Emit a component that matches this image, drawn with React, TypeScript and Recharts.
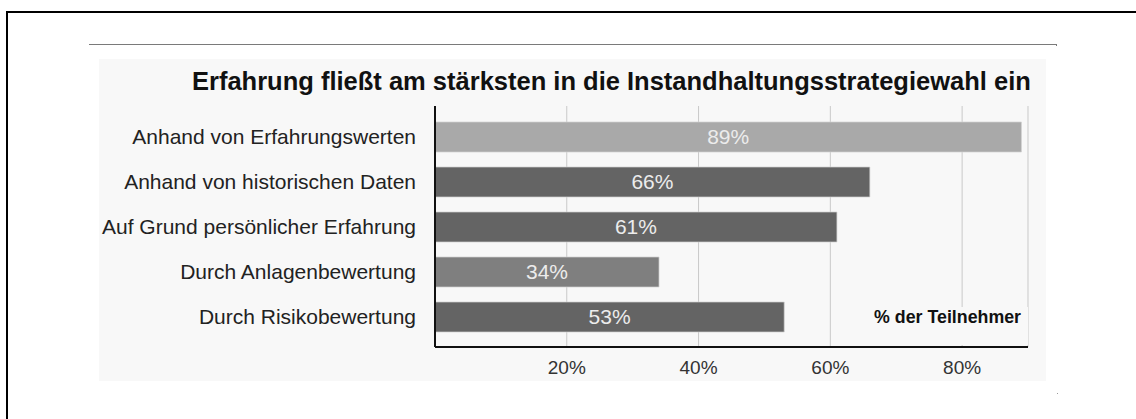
import React from "react";
import {
  BarChart,
  Bar,
  XAxis,
  YAxis,
  CartesianGrid,
  Cell,
  LabelList,
} from "recharts";

const categories = [
  "Anhand von Erfahrungswerten",
  "Anhand von historischen Daten",
  "Auf Grund persönlicher Erfahrung",
  "Durch Anlagenbewertung",
  "Durch Risikobewertung",
];

const shares = [89, 66, 61, 34, 53];

const xTicks = [20, 40, 60, 80];

const barColors = ["#a9a9a9", "#646464", "#646464", "#7f7f7f", "#646464"];

const data = categories.map((name, i) => ({ name, value: shares[i] }));

const FONT = '"Liberation Sans", Arial, sans-serif';
const PANEL = "#f8f8f8";

export default function App() {
  return (
    <div
      style={{
        position: "absolute",
        left: 0,
        top: 0,
        width: 1136,
        height: 419,
        background: "#ffffff",
        overflow: "hidden",
        fontFamily: FONT,
      }}
    >
      {/* outer frame (only top and left edges are in view) */}
      <div
        style={{
          position: "absolute",
          left: 6,
          top: 11,
          width: 1200,
          height: 500,
          borderLeft: "2px solid #000",
          borderTop: "2px solid #000",
        }}
      />

      {/* thin rule above the figure */}
      <div
        style={{
          position: "absolute",
          left: 89,
          top: 44,
          width: 968,
          height: 1,
          background: "#7a7a7a",
        }}
      />
      <div
        style={{
          position: "absolute",
          left: 1056,
          top: 44,
          width: 1,
          height: 2,
          background: "#7a7a7a",
        }}
      />
      <div
        style={{
          position: "absolute",
          left: 1057,
          top: 393,
          width: 1,
          height: 1,
          background: "#9a9a9a",
        }}
      />

      {/* chart panel */}
      <div
        style={{
          position: "absolute",
          left: 99,
          top: 59,
          width: 947,
          height: 322,
          background: PANEL,
        }}
      />

      <div
        style={{
          position: "absolute",
          left: 192,
          top: 68,
          fontSize: 25.5,
          lineHeight: "26px",
          fontWeight: "bold",
          color: "#111",
          whiteSpace: "nowrap",
        }}
      >
        Erfahrung fließt am stärksten in die Instandhaltungsstrategiewahl ein
      </div>

      <div style={{ position: "absolute", left: 0, top: 0 }}>
        <BarChart
          width={1136}
          height={419}
          data={data}
          layout="vertical"
          margin={{ top: 106, right: 108, bottom: 32, left: 80 }}
          barSize={30}
        >
          <CartesianGrid
            horizontal={false}
            vertical={true}
            stroke="#c9c9c9"
            strokeWidth={1}
          />
          <XAxis
            type="number"
            domain={[0, 90]}
            ticks={xTicks}
            tickFormatter={(v: number) => `${v}%`}
            axisLine={{ stroke: "#111", strokeWidth: 2 }}
            tickLine={false}
            tickSize={0}
            tickMargin={14}
            height={40}
            tick={{ fontSize: 19, fill: "#333", fontFamily: FONT }}
          />
          <YAxis
            type="category"
            dataKey="name"
            width={355}
            axisLine={{ stroke: "#111", strokeWidth: 2 }}
            tickLine={false}
            tickSize={0}
            tickMargin={19}
            padding={{ top: 8, bottom: 8 }}
            tick={{ fontSize: 21, fill: "#222", fontFamily: FONT }}
            interval={0}
          />
          <Bar
            dataKey="value"
            isAnimationActive={false}
            stroke="#d2d2d2"
            strokeOpacity={0.7}
            strokeWidth={1}
          >
            {data.map((d, i) => (
              <Cell key={d.name} fill={barColors[i]} />
            ))}
            <LabelList
              dataKey="value"
              position="center"
              formatter={(v: number) => `${v}%`}
              fill="#ececec"
              fontSize={21}
              fontFamily={FONT}
            />
          </Bar>
        </BarChart>
      </div>

      {/* axis caption sits on a panel-coloured patch covering the 80% gridline */}
      <div
        style={{
          position: "absolute",
          left: 866,
          top: 307,
          width: 162,
          height: 38,
          background: PANEL,
        }}
      />
      <div
        style={{
          position: "absolute",
          right: 1136 - 1021,
          top: 308,
          fontSize: 17.8,
          lineHeight: "18px",
          fontWeight: "bold",
          color: "#111",
          whiteSpace: "nowrap",
        }}
      >
        % der Teilnehmer
      </div>
    </div>
  );
}
